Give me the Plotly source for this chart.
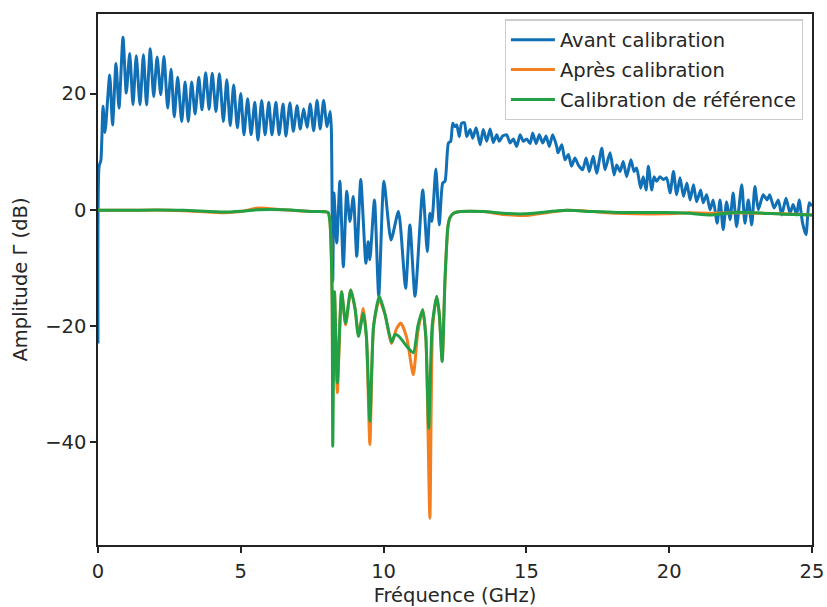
import plotly.graph_objects as go

# ---- data ----
freq_avant = [0.0, 0.04, 0.10, 0.175, 0.245, 0.41, 0.51, 0.63, 0.735, 0.875, 0.99, 1.11, 1.225, 1.34, 1.47,
              1.59, 1.70, 1.83, 1.95, 2.07, 2.195, 2.31, 2.44, 2.56, 2.67, 2.79, 2.93, 3.05, 3.16, 3.28,
              3.40, 3.53, 3.64, 3.77, 3.89, 4.0, 4.13, 4.25, 4.39, 4.51, 4.63, 4.75, 4.88, 5.0, 5.11,
              5.24, 5.36, 5.49, 5.60, 5.73, 5.85, 5.98, 6.09, 6.23, 6.34, 6.48, 6.58, 6.72, 6.84, 6.97,
              7.08, 7.20, 7.32, 7.43, 7.55, 7.67, 7.78, 7.90, 8.02, 8.13, 8.17, 8.22, 8.26, 8.36, 8.47,
              8.59, 8.71, 8.82, 8.94, 9.06, 9.20, 9.38, 9.46, 9.52, 9.68, 9.83, 10.01, 10.26, 10.52, 10.77,
              10.92, 11.10, 11.37, 11.53, 11.62, 11.69, 11.83, 11.95, 12.07, 12.15, 12.27, 12.35, 12.42, 12.50, 12.56,
              12.65, 12.73, 12.83, 12.91, 13.03, 13.12, 13.24, 13.38, 13.49, 13.61, 13.73, 13.84, 13.96, 14.05, 14.17,
              14.31, 14.43, 14.54, 14.66, 14.78, 14.89, 15.01, 15.13, 15.22, 15.34, 15.45, 15.57, 15.69, 15.80, 15.92,
              16.06, 16.11, 16.24, 16.35, 16.47, 16.58, 16.70, 16.82, 16.97, 17.09, 17.20, 17.34, 17.46, 17.64, 17.75,
              17.93, 18.07, 18.16, 18.28, 18.39, 18.51, 18.66, 18.77, 18.86, 19.00, 19.09, 19.19, 19.27, 19.39, 19.47,
              19.56, 19.68, 19.79, 19.91, 20.03, 20.15, 20.26, 20.38, 20.50, 20.62, 20.73, 20.85, 20.96, 21.10, 21.19,
              21.31, 21.43, 21.54, 21.68, 21.78, 21.89, 22.01, 22.13, 22.24, 22.36, 22.54, 22.65, 22.77, 22.89, 23.00,
              23.12, 23.29, 23.43, 23.52, 23.67, 23.82, 23.94, 24.09, 24.23, 24.34, 24.46, 24.55, 24.67, 24.79, 24.90,
              25.0]
gamma_avant = [-23.0, 7.5, 8.5, 17.8, 13.3, 23.2, 14.6, 25.2, 17.5, 29.7, 20.1, 26.9, 18.1, 26.5, 18.1,
               26.7, 18.1, 27.7, 19.5, 26.3, 19.8, 26.4, 17.5, 24.2, 16.0, 22.8, 15.2, 22.0, 15.2, 22.0,
               16.5, 22.8, 17.2, 23.6, 17.3, 23.5, 16.9, 23.4, 15.2, 22.4, 14.5, 21.5, 14.1, 20.0, 12.9,
               19.1, 12.9, 18.5, 12.0, 18.8, 12.9, 18.5, 12.9, 18.5, 12.9, 18.2, 12.7, 18.4, 13.5, 17.9,
               13.9, 17.4, 14.2, 18.2, 13.6, 18.8, 13.9, 18.8, 14.3, 16.9, 14.0, -12.3, 2.9, -5.7, 4.9,
               -9.8, 3.2, -2.0, 2.3, -8.0, 5.2, -9.2, -5.5, -8.6, 1.7, -14.9, 4.9, -5.2, -0.3, -13.5,
               -2.6, -14.9, 3.4, -7.2, -0.6, -2.0, 7.0, -2.6, 4.6, 4.9, 11.5, 11.8, 14.9, 14.3, 14.6,
               12.6, 14.9, 15.0, 12.6, 13.8, 12.3, 14.1, 11.2, 13.8, 11.8, 13.9, 11.6, 12.9, 11.8, 12.7,
               12.9, 11.5, 12.2, 10.9, 12.9, 11.8, 12.2, 11.4, 13.2, 11.4, 12.9, 11.5, 12.7, 10.9, 12.9,
               10.9, 9.8, 11.2, 8.6, 9.5, 7.5, 8.9, 7.7, 6.9, 8.9, 6.6, 9.2, 6.3, 10.6, 6.9,
               9.8, 6.0, 7.7, 6.6, 8.3, 5.7, 8.6, 6.6, 7.2, 3.7, 5.7, 3.4, 7.5, 3.4, 5.7,
               4.9, 5.7, 5.2, 5.5, 2.9, 6.6, 2.6, 5.5, 2.3, 4.6, 1.7, 4.3, 1.4, 3.4, 1.2,
               2.6, 0.0, 1.7, -2.3, 1.7, -3.4, 1.4, -1.7, 2.9, -2.9, 4.3, -2.3, 1.7, -2.6, 4.0,
               0.0, 2.6, 1.7, 2.6, 0.3, 1.7, -0.9, 2.0, -0.6, 0.9, -0.9, 1.7, -2.3, -4.3, 1.2,
               0.6]

freq_apres = [0.0, 1.0, 2.0, 3.0, 4.43, 5.0, 5.6, 6.5, 7.5, 8.05, 8.12, 8.17, 8.20, 8.22, 8.28,
              8.38, 8.53, 8.67, 8.85, 9.0, 9.12, 9.29, 9.40, 9.52, 9.65, 9.85, 10.05, 10.28, 10.45, 10.60,
              10.81, 11.04, 11.2, 11.37, 11.48, 11.62, 11.72, 11.86, 11.95, 12.05, 12.15, 12.25, 12.32, 12.45, 12.68,
              13.5, 14.2, 14.9, 16.4, 17.3, 18.16, 19.9, 20.7, 21.43, 22.25, 24.0, 25.0]
gamma_apres = [-0.1, -0.1, -0.05, -0.15, -0.5, -0.3, 0.3, 0.0, -0.3, -0.45, -2.0, -8.0, -16.0, -30.0, -14.1,
               -31.5, -14.1, -19.8, -13.8, -17.0, -21.5, -17.0, -22.0, -40.4, -20.0, -15.5, -18.0, -23.0, -20.5, -19.5,
               -22.0, -28.4, -21.0, -17.2, -22.0, -53.1, -20.0, -15.0, -18.0, -26.1, -12.0, -3.0, -1.4, -0.6, -0.3,
               -0.3, -0.8, -1.0, -0.1, -0.3, -0.6, -0.7, -0.5, -0.6, -0.5, -0.7, -0.9]

freq_ref = [0.0, 1.0, 2.0, 3.0, 4.43, 5.0, 5.6, 6.5, 7.5, 8.05, 8.12, 8.17, 8.20, 8.22, 8.28,
            8.38, 8.53, 8.67, 8.85, 9.0, 9.12, 9.29, 9.40, 9.52, 9.65, 9.85, 10.05, 10.28, 10.40, 10.52,
            10.81, 11.04, 11.2, 11.37, 11.48, 11.58, 11.70, 11.86, 11.95, 12.05, 12.15, 12.25, 12.32, 12.45, 12.68,
            13.5, 14.2, 14.9, 16.4, 17.3, 18.16, 19.9, 20.7, 21.43, 22.25, 24.0, 25.0]
gamma_ref = [-0.1, -0.1, -0.05, -0.1, -0.4, -0.25, 0.0, 0.0, -0.3, -0.45, -2.0, -8.0, -16.0, -40.7, -14.1,
             -29.8, -14.1, -19.5, -13.8, -17.0, -21.8, -17.8, -22.0, -36.4, -20.0, -14.9, -18.0, -22.8, -21.5, -21.7,
             -23.5, -24.6, -20.0, -17.2, -22.0, -37.6, -20.0, -14.9, -18.0, -26.1, -12.0, -3.0, -1.4, -0.6, -0.3,
             -0.3, -0.6, -0.7, -0.1, -0.3, -0.45, -0.45, -0.6, -0.9, -0.45, -0.75, -0.9]

x_ticks = [0, 5, 10, 15, 20, 25]
y_ticks = [-40, -20, 0, 20]

names = ["Avant calibration", "Après calibration", "Calibration de référence"]
colors = ["#1170b5", "#f37f20", "#22a045"]

fig = go.Figure()
series = [(freq_avant, gamma_avant), (freq_apres, gamma_apres), (freq_ref, gamma_ref)]
for i, ((xs, ys), nm, c) in enumerate(zip(series, names, colors)):
    fig.add_trace(go.Scatter(x=xs, y=ys, mode="lines", name=nm, legendgroup=str(i),
                             line=dict(color=c, width=3, shape="spline", smoothing=0.6)))

font = dict(family="DejaVu Sans, sans-serif", size=20, color="#262626")
axis_common = dict(showline=True, linecolor="#222222", linewidth=1.5, mirror=True,
                   ticks="outside", ticklen=6, tickwidth=1.5, tickcolor="#222222",
                   showgrid=False, zeroline=False, automargin=False,
                   tickfont=dict(size=19.5, color="#262626"))

fig.update_layout(
    width=827, height=607,
    margin=dict(l=98, r=15, t=14, b=62),
    paper_bgcolor="white", plot_bgcolor="white",
    font=font,
    xaxis=dict(range=[0, 25], tickvals=x_ticks, ticklabelstandoff=2,
               title=dict(text="Fréquence (GHz)", font=dict(size=19.5), standoff=6), **axis_common),
    yaxis=dict(range=[-57.7, 33.7], tickvals=y_ticks,
               title=dict(text="Amplitude Γ (dB)", font=dict(size=19.5), standoff=12), **axis_common),
    legend=dict(x=0.987, y=0.99, xanchor="right", yanchor="top",
                bgcolor="rgba(255,255,255,0.85)", bordercolor="#cccccc", borderwidth=1.2,
                font=dict(size=19.5, color="#262626"), tracegroupgap=1.5, traceorder="grouped",
                itemwidth=44),
)

# remove the default 8px page margin so the figure fills the window exactly
fig.write_html("out.html", config={"displayModeBar": False},
               post_script="document.body.style.margin='0px';document.body.style.overflow='hidden';")
